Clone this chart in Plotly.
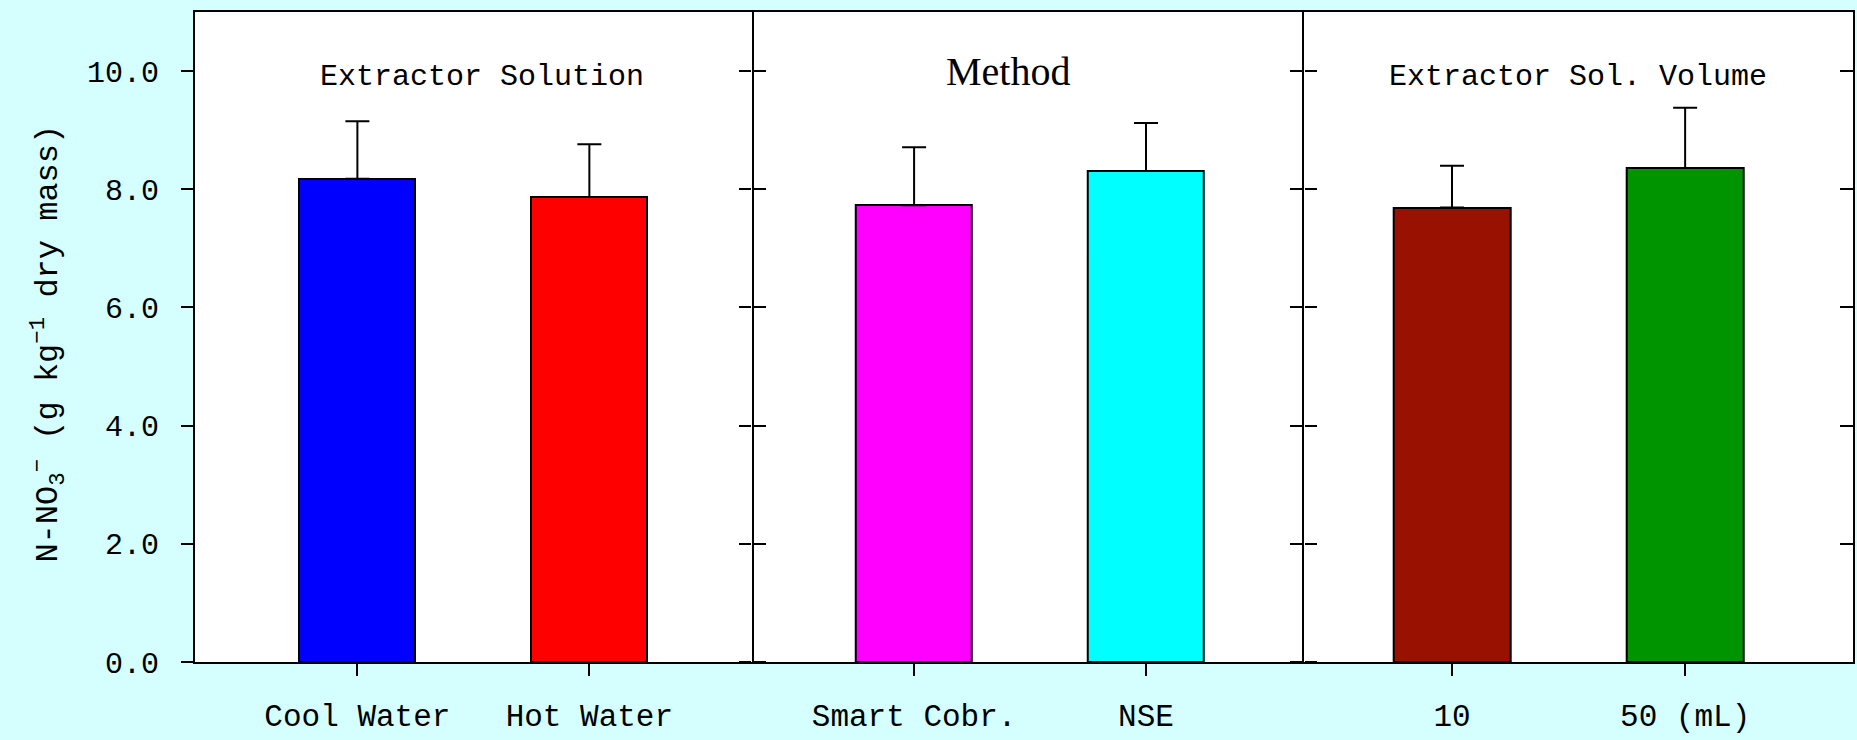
import plotly.graph_objects as go

# ---- data -----------------------------------------------------------------
panel_titles = ["Extractor Solution", "Method", "Extractor Sol. Volume"]

solution_labels = ["Cool Water", "Hot Water"]
solution_means = [8.18, 7.87]
solution_sd = [0.97, 0.89]

method_labels = ["Smart Cobr.", "NSE"]
method_means = [7.73, 8.31]
method_sd = [0.98, 0.81]

volume_labels = ["10", "50 (mL)"]
volume_means = [7.69, 8.36]
volume_sd = [0.71, 1.02]

solution_colors = ["#0000FF", "#FF0000"]
method_colors = ["#FF00FF", "#00FFFF"]
volume_colors = ["#991100", "#009400"]

y_ticks = [0, 2, 4, 6, 8, 10]

# ---- styling --------------------------------------------------------------
BG = "#D5FFFF"
MONO = "Liberation Mono"
SERIF = "Liberation Serif"

panels = [
    (solution_labels, solution_means, solution_sd, solution_colors, [-0.70, 1.70]),
    (method_labels, method_means, method_sd, method_colors, [-0.70, 1.68]),
    (volume_labels, volume_means, volume_sd, volume_colors, [-0.636, 1.72]),
]
domains = [[0.0, 0.3358], [0.3358, 0.6687], [0.6687, 1.0]]

fig = go.Figure()

for i, (labels, means, sd, colors, xr) in enumerate(panels):
    sfx = "" if i == 0 else str(i + 1)
    fig.add_trace(go.Bar(
        x=list(range(len(labels))),
        y=means,
        width=0.5,
        marker=dict(color=colors, line=dict(color="black", width=2)),
        error_y=dict(type="data", array=sd, symmetric=False, arrayminus=[0] * len(sd),
                     color="black", thickness=2, width=12),
        xaxis="x" + sfx,
        yaxis="y" + sfx,
        showlegend=False,
        hoverinfo="skip",
    ))
    fig.layout["xaxis" + sfx] = dict(
        domain=domains[i],
        anchor="y" + sfx,
        range=xr,
        tickmode="array",
        tickvals=list(range(len(labels))),
        ticktext=labels,
        ticks="outside",
        ticklen=12,
        tickwidth=2,
        tickcolor="black",
        ticklabelstandoff=13,
        tickfont=dict(family=MONO, size=31, color="black"),
        showline=True,
        linecolor="black",
        linewidth=2,
        mirror=True,
        showgrid=False,
        zeroline=False,
        automargin=False,
        fixedrange=True,
    )
    ycfg = dict(
        anchor="x" + sfx,
        domain=[0, 1],
        range=[0, 11],
        tickmode="array",
        tickvals=y_ticks,
        ticks="outside",
        ticklen=12,
        tickwidth=2,
        tickcolor="black",
        linecolor="black",
        linewidth=2,
        showgrid=False,
        zeroline=False,
        automargin=False,
        fixedrange=True,
    )
    if i == 0:
        # left frame with labels; the mirrored line is the first divider
        ycfg.update(showline=True, mirror="ticks", showticklabels=True,
                    ticktext=[f"{v:.1f}" for v in y_ticks],
                    ticklabelstandoff=16,
                    tickfont=dict(family=MONO, size=30, color="black"))
    elif i == 1:
        # tick marks only, on both sides of panel 2
        ycfg.update(showline=False, mirror="ticks", showticklabels=False, matches="y")
    else:
        # second divider line, ticks pointing into panel 2
        ycfg.update(showline=True, mirror=False, showticklabels=False, matches="y")
    fig.layout["yaxis" + sfx] = ycfg

# right-hand frame of the last panel with inward ticks
fig.add_trace(go.Bar(x=[], y=[], xaxis="x3", yaxis="y4", showlegend=False, hoverinfo="skip"))
fig.layout["yaxis4"] = dict(
    overlaying="y3",
    anchor="x3",
    side="right",
    range=[0, 11],
    tickmode="array",
    tickvals=y_ticks,
    ticks="inside",
    ticklen=13,
    tickwidth=2,
    tickcolor="black",
    showticklabels=False,
    showline=True,
    linecolor="black",
    linewidth=2,
    showgrid=False,
    zeroline=False,
    automargin=False,
    fixedrange=True,
)

# panel headings
title_fonts = [dict(family=MONO, size=30, color="black"),
               dict(family=SERIF, size=40, color="black"),
               dict(family=MONO, size=30, color="black")]
title_offsets = [0.015, -0.035, 0.0]
title_heights = [0.9000, 0.9080, 0.9000]
annotations = []
for i, t in enumerate(panel_titles):
    sfx = "" if i == 0 else str(i + 1)
    annotations.append(dict(
        text=t, x=0.5 + title_offsets[i], xref=f"x{sfx} domain",
        y=title_heights[i], yref=f"y{sfx} domain",
        xanchor="center", yanchor="middle", showarrow=False,
        font=title_fonts[i],
    ))

# y-axis title
annotations.append(dict(
    text="N-NO<sub>3</sub><sup>−</sup> (g kg<sup>−1</sup> dry mass)",
    x=-0.0892, xref="paper", y=0.49, yref="paper",
    xanchor="center", yanchor="middle", textangle=-90, showarrow=False,
    font=dict(family=MONO, size=32, color="black"),
))

fig.update_layout(
    width=1857,
    height=740,
    margin=dict(l=195, r=4, t=12, b=78, autoexpand=False),
    paper_bgcolor=BG,
    plot_bgcolor="white",
    bargap=0,
    annotations=annotations,
)

fig.write_html("out.html")
